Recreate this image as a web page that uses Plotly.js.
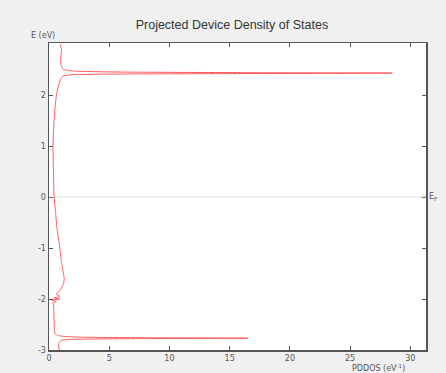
<!DOCTYPE html>
<html>
<head>
<meta charset="utf-8">
<script src="https://cdn.plot.ly/plotly-3.0.1.min.js"></script>
<style>
html,body{margin:0;padding:0;background:#f0f0f0;}
#chart{width:446px;height:373px;}
</style>
</head>
<body>
<div id="chart"></div>
<script>
// Energy (eV) and projected device DOS (1/eV)
const energy = [3.0, 2.95, 2.9, 2.8, 2.7, 2.6, 2.55, 2.5, 2.47, 2.45, 2.437, 2.43, 2.423, 2.412, 2.40, 2.38, 2.35, 2.3, 2.2, 2.1, 2.0, 1.8, 1.5, 1.2, 1.0, 0.7, 0.4, 0.0, -0.3, -0.6, -0.9, -1.1, -1.3, -1.5, -1.6, -1.7, -1.78, -1.85, -1.9, -1.95, -1.98, -2.0, -2.02, -2.05, -2.08, -2.1, -2.2, -2.4, -2.6, -2.68, -2.72, -2.745, -2.76, -2.768, -2.776, -2.79, -2.81, -2.85, -2.9, -3.0];
const pddos = [1.0, 0.95, 1.05, 1.0, 0.95, 1.0, 1.05, 1.2, 2.0, 6.0, 18.0, 28.5, 18.0, 6.0, 2.0, 1.3, 1.05, 0.95, 0.8, 0.7, 0.62, 0.52, 0.42, 0.36, 0.33, 0.35, 0.38, 0.42, 0.55, 0.65, 0.85, 0.95, 1.05, 1.2, 1.27, 1.2, 1.05, 0.85, 0.6, 0.9, 0.4, 0.9, 0.2, 0.6, 0.3, 0.35, 0.4, 0.42, 0.45, 0.5, 0.8, 2.0, 8.0, 16.5, 8.0, 2.0, 1.0, 0.85, 0.8, 0.85];
const xTicks = [0, 5, 10, 15, 20, 25, 30];
const yTicks = [-3, -2, -1, 0, 1, 2];
const fermiLevel = 0;

const trace = {
  x: pddos, y: energy, type: 'scatter', mode: 'lines',
  line: {color: '#ff5a5a', width: 1, shape: 'spline', smoothing: 0.4},
  hoverinfo: 'skip'
};

const axisCommon = {
  showgrid: false, zeroline: false, showline: true, linecolor: '#555', linewidth: 1.5,
  mirror: 'ticks', ticks: 'inside', ticklen: 4, tickcolor: '#555', tickwidth: 1,
  tickfont: {family: 'DejaVu Sans', size: 8, color: '#555'}
};

const layout = {
  width: 446, height: 373,
  paper_bgcolor: '#f0f0f0', plot_bgcolor: '#ffffff',
  margin: {l: 49, r: 20, t: 43, b: 23},
  showlegend: false,
  title: {text: 'Projected Device Density of States', x: 0.52, xanchor: 'center', y: 0.935, yanchor: 'middle',
          font: {family: 'Liberation Sans', size: 12.5, color: '#333'}},
  xaxis: Object.assign({}, axisCommon, {range: [0, 31.3], tickvals: xTicks, ticktext: xTicks.map(String)}),
  yaxis: Object.assign({}, axisCommon, {range: [-3, 3.02], tickvals: yTicks, ticktext: yTicks.map(String)}),
  shapes: [{type: 'line', xref: 'paper', yref: 'y', x0: 0, x1: 1, y0: fermiLevel, y1: fermiLevel,
            line: {color: '#bbbbbb', width: 1, dash: '1px,1px'}}],
  annotations: [
    {text: 'E (eV)', xref: 'paper', yref: 'paper', x: -0.015, y: 1.0, xanchor: 'center', yanchor: 'bottom', yshift: 1,
     showarrow: false, font: {family: 'DejaVu Sans', size: 8, color: '#555'}},
    {text: 'PDDOS (eV<sup>-1</sup>)', xref: 'paper', yref: 'paper', x: 0.875, y: 0, xanchor: 'center', yanchor: 'top', yshift: -11,
     showarrow: false, font: {family: 'DejaVu Sans', size: 8, color: '#555'}},
    {text: 'E<sub>F</sub>', xref: 'paper', yref: 'y', x: 1, y: fermiLevel, xanchor: 'left', yanchor: 'middle', xshift: 1,
     showarrow: false, font: {family: 'DejaVu Sans', size: 8, color: '#555'}}
  ]
};

Plotly.newPlot('chart', [trace], layout, {displayModeBar: false, staticPlot: true});
</script>
</body>
</html>
